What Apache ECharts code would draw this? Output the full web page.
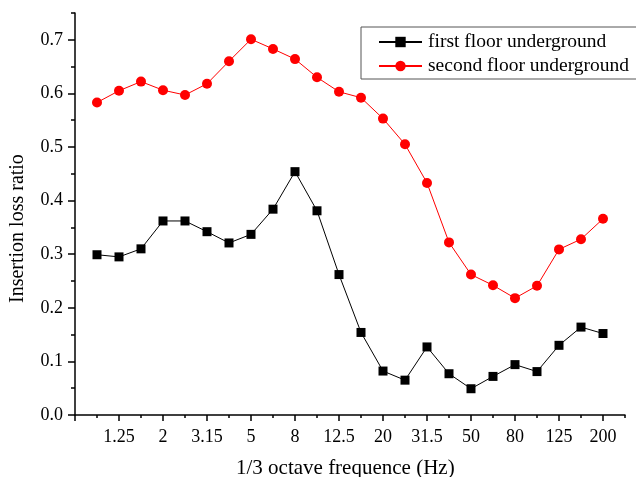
<!DOCTYPE html>
<html>
<head>
<meta charset="utf-8">
<script src="https://cdn.jsdelivr.net/npm/echarts@6/dist/echarts.min.js"></script>
<style>
  html, body { margin: 0; padding: 0; background: #fff; }
  #chart { width: 636px; height: 477px; }
</style>
</head>
<body>
<div id="chart"></div>
<script>
// 1/3 octave band centre frequencies (Hz)
const freqs = ['1', '1.25', '1.6', '2', '2.5', '3.15', '4', '5', '6.3', '8', '10', '12.5',
               '16', '20', '25', '31.5', '40', '50', '63', '80', '100', '125', '160', '200'];

// Insertion loss ratio per band
const firstFloor = [0.299, 0.295, 0.310, 0.362, 0.362, 0.342, 0.321, 0.337, 0.384, 0.454, 0.381, 0.262,
                    0.154, 0.082, 0.065, 0.127, 0.077, 0.049, 0.072, 0.094, 0.081, 0.130, 0.164, 0.152];
const secondFloor = [0.583, 0.605, 0.622, 0.606, 0.597, 0.618, 0.660, 0.701, 0.683, 0.664, 0.630, 0.603,
                     0.592, 0.553, 0.505, 0.433, 0.322, 0.262, 0.242, 0.218, 0.241, 0.309, 0.328, 0.366];

const seriesNames = ['first floor underground', 'second floor underground'];
const yMajorTicks = [0, 0.1, 0.2, 0.3, 0.4, 0.5, 0.6, 0.7];
const xTitle = '1/3 octave frequence (Hz)';
const yTitle = 'Insertion loss ratio';

const FONT = '"Liberation Serif", "Times New Roman", serif';
// one empty slot on each side of the band list
const xSlots = [''].concat(freqs, [' ']);

const chart = echarts.init(document.getElementById('chart'), null, { renderer: 'canvas' });

const grids = [
  { left: 75, right: 11, top: 13, bottom: 62, outerBoundsMode: 'none', containLabel: false },
  // same bottom edge, top placed at 0.7 so the labelled axis shares the scale
  { left: 75, right: 11, top: 13 + 402 * 0.05 / 0.75, bottom: 62, outerBoundsMode: 'none', containLabel: false }
];

const axisLineStyle = { color: '#000', width: 1.5 };

chart.setOption({
  animation: false,
  backgroundColor: '#fff',
  grid: grids,
  legend: {
    orient: 'vertical',
    left: 361,
    top: 27,
    width: 274,
    padding: [5, 10, 3, 17],
    itemGap: 4,
    itemWidth: 43,
    itemHeight: 13,
    borderColor: '#555',
    borderWidth: 1,
    textStyle: { fontFamily: FONT, fontSize: 19.5, color: '#000', padding: [0, 0, 0, 1] },
    data: seriesNames
  },
  xAxis: [
    {
      // minor ticks on every band
      type: 'category', gridIndex: 0, position: 'bottom', data: xSlots, boundaryGap: false,
      axisLine: { lineStyle: axisLineStyle },
      axisTick: { interval: 0, length: 3, lineStyle: { color: '#000', width: 1.5 } },
      axisLabel: { show: false },
      splitLine: { show: false }
    },
    {
      // major ticks and labels on every other band
      type: 'category', gridIndex: 0, position: 'bottom', offset: 0, data: xSlots, boundaryGap: false,
      axisLine: { show: false },
      axisTick: { interval: (i) => i % 2 === 0, length: 6, lineStyle: { color: '#000', width: 1.5 } },
      axisLabel: {
        interval: (i) => i % 2 === 0,
        margin: 13,
        fontFamily: FONT, fontSize: 18, color: '#000'
      },
      splitLine: { show: false }
    },
    { type: 'category', gridIndex: 1, position: 'bottom', data: xSlots, show: false }
  ],
  yAxis: [
    {
      type: 'value', gridIndex: 0, position: 'left', min: 0, max: 0.75, interval: 0.05,
      axisLine: { show: true, lineStyle: axisLineStyle },
      axisTick: { show: true, length: 4, lineStyle: { color: '#000', width: 1.5 } },
      axisLabel: { show: false },
      splitLine: { show: false }
    },
    {
      type: 'value', gridIndex: 1, position: 'left',
      min: yMajorTicks[0], max: yMajorTicks[yMajorTicks.length - 1], interval: 0.1,
      axisLine: { show: false },
      axisTick: { show: true, length: 7, lineStyle: { color: '#000', width: 1.5 } },
      axisLabel: {
        margin: 12,
        fontFamily: FONT, fontSize: 18, color: '#000',
        formatter: (v) => v.toFixed(1)
      },
      splitLine: { show: false }
    }
  ],
  series: [
    {
      name: seriesNames[0], type: 'line', xAxisIndex: 0, yAxisIndex: 0,
      data: freqs.map((f, i) => [f, firstFloor[i]]),
      symbol: 'rect', symbolSize: 9,
      lineStyle: { color: '#000', width: 1 },
      itemStyle: { color: '#000' },
      z: 3
    },
    {
      name: seriesNames[1], type: 'line', xAxisIndex: 0, yAxisIndex: 0,
      data: freqs.map((f, i) => [f, secondFloor[i]]),
      symbol: 'circle', symbolSize: 10,
      lineStyle: { color: '#ff0000', width: 1 },
      itemStyle: { color: '#ff0000' },
      z: 3
    }
  ],
  graphic: [
    {
      type: 'text', left: 236, top: 458,
      style: { text: xTitle, font: '21px ' + FONT, fill: '#000' }
    },
    {
      type: 'text', rotation: Math.PI / 2,
      x: 8, y: 303,
      style: { text: yTitle, font: '20px ' + FONT, fill: '#000', align: 'left', verticalAlign: 'top' }
    }
  ]
});
</script>
</body>
</html>
